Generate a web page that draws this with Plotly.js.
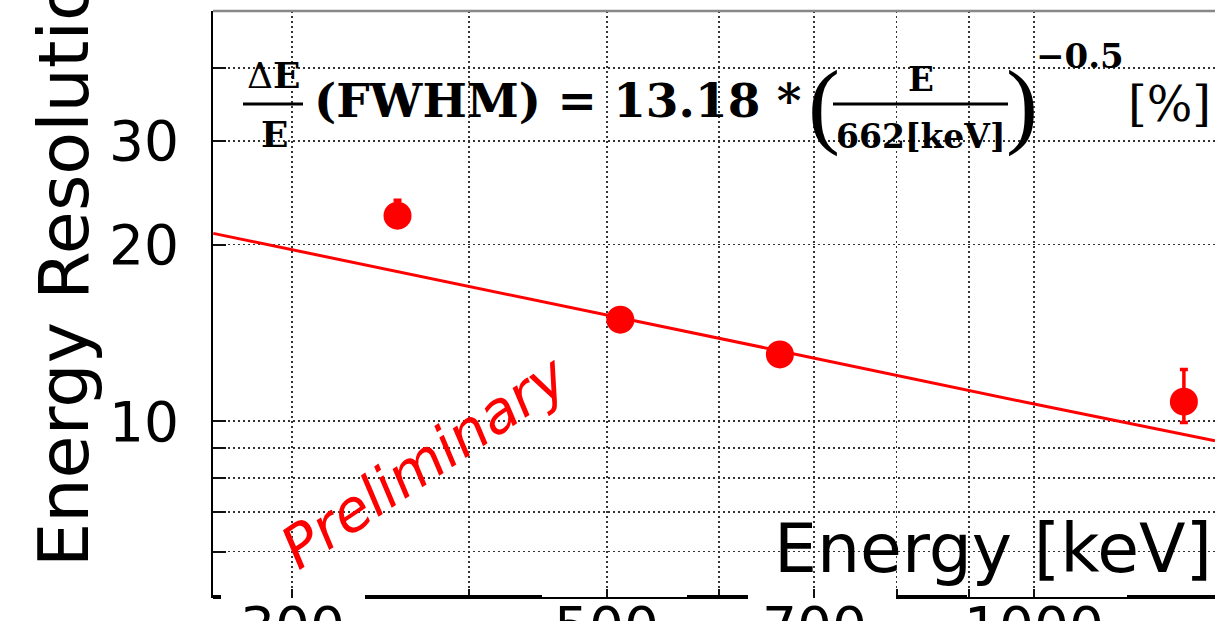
<!DOCTYPE html>
<html>
<head>
<meta charset="utf-8">
<script src="https://cdn.plot.ly/plotly-3.0.1.min.js"></script>
<style>html,body{margin:0;padding:0;background:#fff;}#chart{width:1215px;height:621px;}</style>
</head>
<body>
<div id="chart"></div>
<script>
// ---- data ----
const energies = [356, 511, 662, 1275];            // keV
const resolution = [22.4, 14.9, 13.0, 10.8];       // %
const errUp = [1.4, 0.3, 0.3, 1.45];
const errDown = [1.0, 0.3, 0.3, 0.85];
const fitEnergies = [264, 356, 511, 662, 1000, 1341];
const fitResolution = [20.9, 18.0, 15.0, 13.18, 10.7, 9.26];
const xTickVals = [300, 400, 500, 600, 700, 800, 900, 1000];
const xTickText = ['300', '', '500', '', '700', '', '', '1000'];
const yTickVals = [6, 7, 8, 9, 10, 20, 30, 40];
const yTickText = ['', '', '', '', '10', '20', '30', ''];
const xTitle = 'Energy [keV]';
const yTitle = 'Energy Resolution [%]';
const watermark = 'Preliminary';

// ---- geometry helpers (pixel -> paper) ----
const W = 1215, H = 621, L = 213, T = 11, B = 598, R = 1215;
const px = x => (x - L) / (R - L);
const py = y => (B - y) / (B - T);

const red = '#ff0000';
const serifB = {family: 'DejaVu Serif', color: '#000', weight: 'bold'};

const traces = [
  {
    x: fitEnergies, y: fitResolution, type: 'scatter', mode: 'lines',
    line: {color: red, width: 3}, hoverinfo: 'skip', showlegend: false
  },
  {
    x: energies, y: resolution, type: 'scatter', mode: 'markers',
    marker: {color: red, size: 28, symbol: 'circle'},
    error_y: {type: 'data', symmetric: false, array: errUp, arrayminus: errDown,
              color: red, thickness: 3.5, width: 4},
    showlegend: false
  }
];

function ann(x, y, text, font, extra) {
  return Object.assign({xref: 'paper', yref: 'paper', x: px(x), y: py(y), text: text,
    showarrow: false, font: font, xanchor: 'center', yanchor: 'middle'}, extra || {});
}

const annotations = [
  // formula pieces
  ann(273, 75, '<span style="font-weight:normal">Δ</span>E', Object.assign({size: 36}, serifB)),
  ann(274, 134, 'E', Object.assign({size: 36}, serifB)),
  ann(312, 100, '(FWHM) = 13.18 *', Object.assign({size: 47}, serifB), {xanchor: 'left'}),
  ann(824, 103, '(', {family: 'Liberation Serif', size: 96, color: '#000', weight: 'normal'}),
  ann(921, 79, 'E', Object.assign({size: 34}, serifB)),
  ann(921, 136, '662[keV]', Object.assign({size: 33}, serifB)),
  ann(1022, 103, ')', {family: 'Liberation Serif', size: 96, color: '#000', weight: 'normal'}),
  ann(1080, 56, '−0.5', Object.assign({size: 34}, serifB)),
  ann(1169, 104, '[%]', {family: 'DejaVu Serif', size: 48, color: '#000'}),
  // axis titles
  ann(1214, 548, xTitle, {family: 'DejaVu Sans', size: 68, color: '#000'}, {xanchor: 'right'}),
  ann(64, 569, yTitle, {family: 'DejaVu Sans', size: 70, color: '#000'}, {textangle: -90, yanchor: 'bottom'}),
  // watermark
  ann(424, 462, watermark, {family: 'DejaVu Sans', size: 58, color: red, style: 'italic'}, {textangle: -34})
];

// x tick labels (only their upper part is visible, as in the reference)
xTickVals.forEach((v, i) => {
  if (!xTickText[i]) return;
  annotations.push({
    xref: 'x', yref: 'paper', x: Math.log10(v), y: 0, yanchor: 'top', xanchor: 'center',
    yshift: 5, text: xTickText[i], showarrow: false,
    font: {family: 'DejaVu Sans', size: 55, color: '#000'}
  });
});

function seg(x0, x1, y, w, c) {
  return {type: 'line', xref: 'paper', yref: 'paper', x0: px(x0), x1: px(x1), y0: py(y), y1: py(y),
          line: {color: c || '#000', width: w}};
}

const shapes = [
  // fraction bars
  seg(243, 303, 104, 3),
  seg(833, 1008, 104, 3),
  // top frame
  seg(213, 1215, 11, 2.5, '#888'),
  // bottom axis pieces (partly covered in the reference)
  seg(213, 221, 597, 4),
  seg(365, 542, 597, 4),
  seg(542, 687, 598, 2),
  seg(687, 748, 597, 4),
  seg(896, 967, 597, 4),
  seg(967, 1127, 598, 2),
  seg(1127, 1215, 597, 4)
];

const gridStyle = {showgrid: true, gridcolor: '#333', gridwidth: 1.8, griddash: '2px,3px'};

const layout = {
  width: W, height: H,
  margin: {l: L, r: W - R, t: T, b: H - B, pad: 0},
  paper_bgcolor: '#fff', plot_bgcolor: '#fff',
  showlegend: false,
  xaxis: Object.assign({
    type: 'log', range: [Math.log10(263.9), Math.log10(1341)],
    tickmode: 'array', tickvals: xTickVals, ticktext: xTickText, showticklabels: false,
    ticks: 'inside', ticklen: 9, tickwidth: 2, tickcolor: '#111',
    showline: false, zeroline: false
  }, gridStyle),
  yaxis: Object.assign({
    type: 'log', range: [Math.log10(5), Math.log10(50)],
    tickmode: 'array', tickvals: yTickVals, ticktext: yTickText,
    ticks: 'inside', ticklen: 13, tickwidth: 2, tickcolor: '#111',
    showline: true, linecolor: '#000', linewidth: 2, mirror: false, zeroline: false,
    tickfont: {family: 'DejaVu Sans', size: 55, color: '#000'},
    ticklabelstandoff: 21
  }, gridStyle),
  annotations: annotations,
  shapes: shapes
};

Plotly.newPlot('chart', traces, layout, {staticPlot: true, displayModeBar: false});
</script>
</body>
</html>
